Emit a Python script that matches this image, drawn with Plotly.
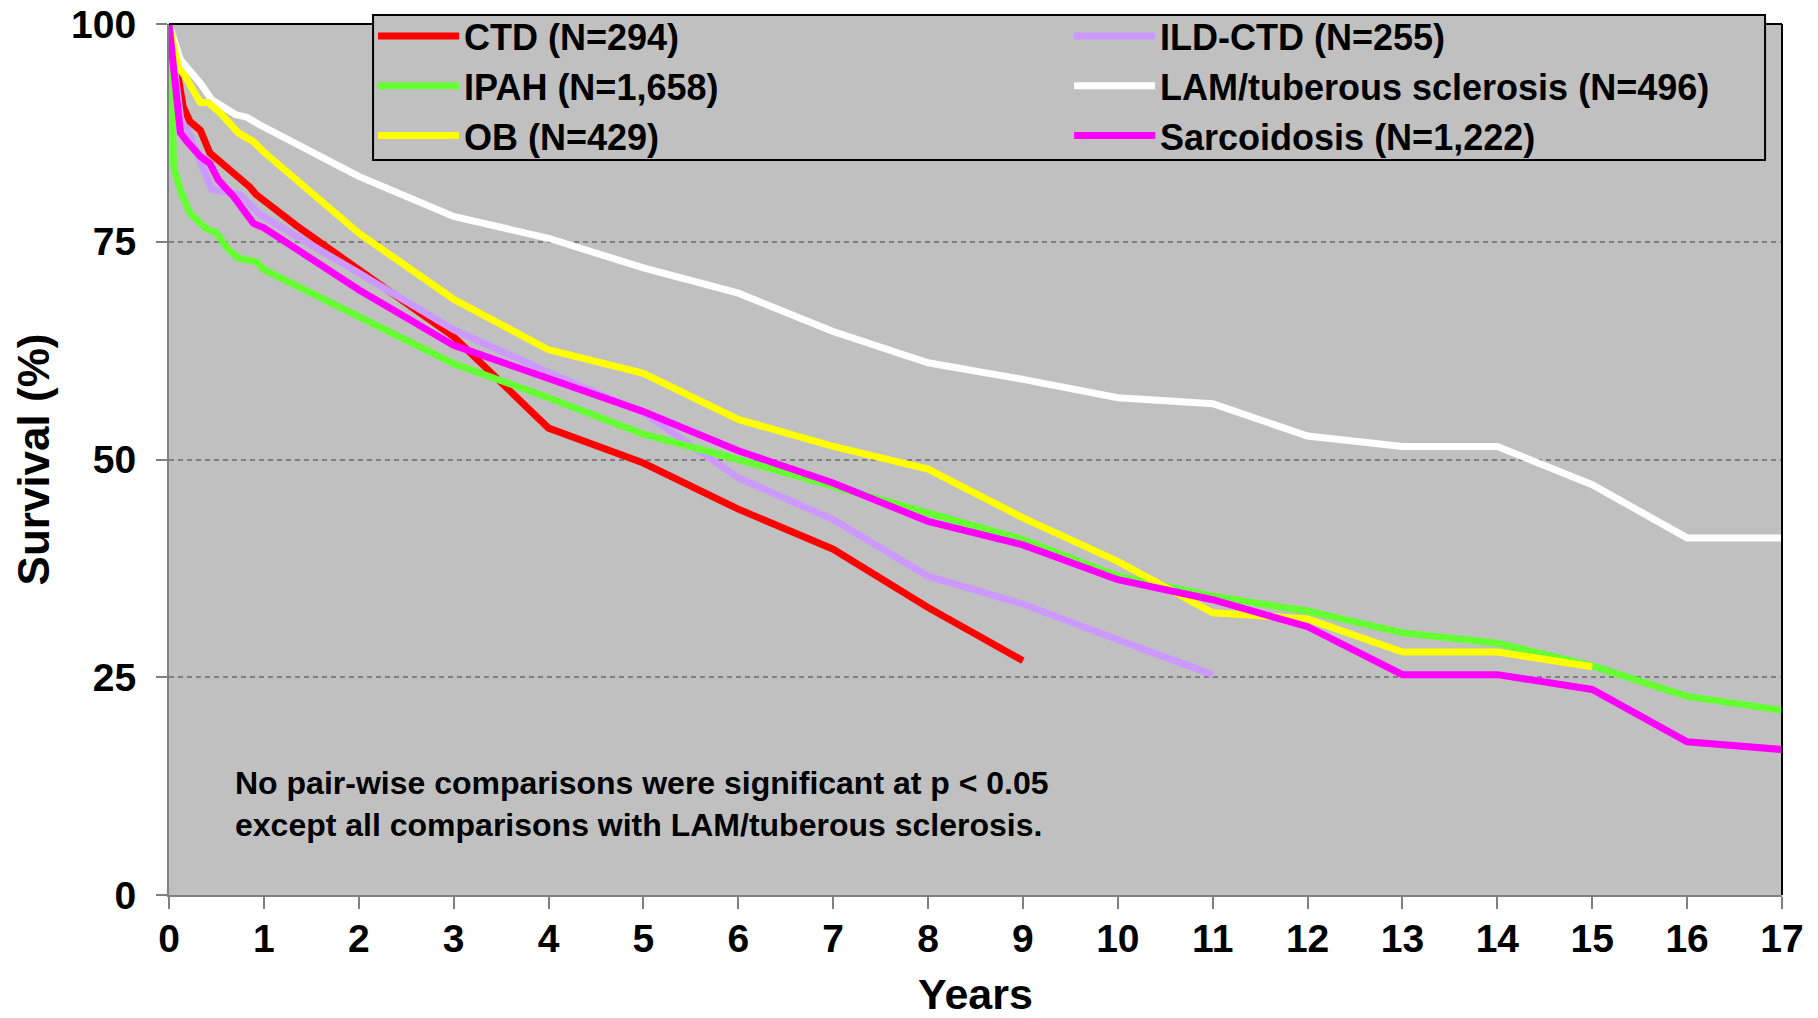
import plotly.graph_objects as go

# ---- data ----
ctd_x = [0, 0.1, 0.15, 0.22, 0.33, 0.43, 0.64, 0.75, 0.85, 0.92, 1.35, 2, 3, 4, 5, 6, 7, 8, 9]
ctd_y = [100, 94.0, 90.5, 88.8, 87.8, 85.2, 83.3, 82.1, 81.3, 80.4, 76.8, 71.8, 64.1, 53.6, 49.6, 44.3, 39.7, 33.0, 26.9]

ild_x = [0, 0.13, 0.19, 0.45, 0.75, 0.96, 2, 3, 4, 5, 6, 7, 8, 9, 10, 11]
ild_y = [100, 88.6, 88.0, 81.0, 80.4, 78.1, 71.4, 64.9, 60.0, 55.4, 47.9, 43.1, 36.6, 33.4, 29.3, 25.3]

ipah_x = [0, 0.05, 0.13, 0.22, 0.38, 0.5, 0.61, 0.73, 0.92, 1, 2, 3, 4, 5, 6, 7, 8, 9, 10, 11, 12, 13, 14, 15, 16, 17]
ipah_y = [100, 83.6, 80.6, 78.3, 76.6, 76.0, 74.3, 73.1, 72.7, 71.8, 66.4, 61.0, 57.1, 52.9, 50.0, 46.9, 43.7, 40.8, 36.6, 34.3, 32.6, 30.1, 28.9, 26.3, 22.8, 21.2]

lam_x = [0, 0.12, 0.33, 0.45, 0.7, 0.82, 0.96, 2, 3, 4, 5, 6, 7, 8, 9, 10, 11, 12, 13, 14, 15, 16, 17]
lam_y = [100, 95.9, 93.2, 91.3, 89.6, 89.3, 88.4, 82.5, 77.9, 75.4, 72.0, 69.1, 64.7, 61.1, 59.2, 57.1, 56.4, 52.7, 51.5, 51.5, 47.1, 41.0, 41.0]

ob_x = [0, 0.1, 0.17, 0.33, 0.41, 0.54, 0.73, 0.89, 1, 2, 3, 4, 5, 6, 7, 8, 9, 10, 11, 12, 13, 14, 15]
ob_y = [100, 95, 94, 91, 91, 89.8, 87.5, 86.5, 85.3, 76, 68.4, 62.6, 59.9, 54.6, 51.5, 48.9, 43.3, 38.3, 32.4, 31.7, 27.9, 27.9, 26.2]

sarc_x = [0, 0.12, 0.19, 0.33, 0.43, 0.52, 0.68, 0.89, 1, 2, 3, 4, 5, 6, 7, 8, 9, 10, 11, 12, 13, 14, 15, 16, 17]
sarc_y = [100, 87.5, 86.5, 84.8, 84.0, 82.1, 80.2, 77.1, 76.6, 69.5, 63.1, 59.3, 55.5, 51.0, 47.3, 42.9, 40.2, 36.2, 33.9, 30.8, 25.3, 25.3, 23.6, 17.6, 16.7]

series_names = ["CTD (N=294)", "ILD-CTD (N=255)", "IPAH (N=1,658)",
                "LAM/tuberous sclerosis (N=496)", "OB (N=429)", "Sarcoidosis (N=1,222)"]
series_colors = ["#FF0000", "#CC99FF", "#66FF33", "#FFFFFF", "#FFFF00", "#FF00FF"]
series_x = [ctd_x, ild_x, ipah_x, lam_x, ob_x, sarc_x]
series_y = [ctd_y, ild_y, ipah_y, lam_y, ob_y, sarc_y]

x_ticks = list(range(0, 18))
y_ticks = [0, 25, 50, 75, 100]

FONT = "Liberation Sans, Arial, sans-serif"

fig = go.Figure()
for name, col, xs, ys in zip(series_names, series_colors, series_x, series_y):
    fig.add_trace(go.Scatter(x=xs, y=ys, mode="lines", name=name,
                             line=dict(color=col, width=7)))

fig.update_layout(
    width=1818, height=1018,
    margin=dict(l=169, r=36, t=24, b=123, autoexpand=False),
    paper_bgcolor="white",
    plot_bgcolor="#C0C0C0",
    font=dict(family=FONT, color="black", size=36, weight="bold"),
    legend=dict(
        orientation="h",
        x=0.1265, xanchor="left",
        y=1.0206, yanchor="top",
        bgcolor="rgba(0,0,0,0)",
        borderwidth=0,
        font=dict(family=FONT, size=36, color="black", weight="bold"),
        entrywidth=600, entrywidthmode="pixels",
        itemwidth=81,
        tracegroupgap=0,
    ),
    xaxis=dict(
        range=[0, 17], tickvals=x_ticks, ticktext=[str(t) for t in x_ticks],
        showgrid=False, zeroline=False, automargin=False,
        showline=True, linecolor="#808080", linewidth=2,
        ticks="outside", ticklen=12, tickcolor="#808080", tickwidth=1.5,
        tickfont=dict(family=FONT, size=39, color="black", weight="bold"),
        ticklabelstandoff=-4,
        title=dict(text="Years", standoff=23,
                   font=dict(family=FONT, size=43, color="black", weight="bold")),
    ),
    yaxis=dict(
        range=[0, 100], tickvals=y_ticks, ticktext=[str(t) for t in y_ticks],
        showgrid=True, gridcolor="#808080", gridwidth=1.5, griddash="5px,4px",
        zeroline=False, automargin=False,
        showline=True, linecolor="#808080", linewidth=2,
        ticks="outside", ticklen=11, tickcolor="#808080", tickwidth=1.5,
        tickfont=dict(family=FONT, size=39, color="black", weight="bold"),
        ticklabelstandoff=12,
        title=dict(text="Survival (%)", standoff=8,
                   font=dict(family=FONT, size=44, color="black", weight="bold")),
    ),
    shapes=[
        dict(type="line", xref="paper", yref="paper", x0=0, x1=1, y0=1, y1=1,
             line=dict(color="black", width=2), layer="above"),
        dict(type="line", xref="paper", yref="paper", x0=1, x1=1, y0=0, y1=1,
             line=dict(color="black", width=2), layer="above"),
        # legend frame
        dict(type="rect", xref="paper", yref="paper",
             x0=0.1265, x1=0.9895, y0=0.8439, y1=1.0103,
             fillcolor="#C0C0C0", line=dict(color="black", width=2), layer="above"),
    ],
    annotations=[
        dict(text="No pair-wise comparisons were significant at p &lt; 0.05<br>"
                  "except all comparisons with LAM/tuberous sclerosis.",
             xref="paper", yref="paper", x=0.0397, y=0.105,
             xanchor="left", yanchor="middle", align="left", showarrow=False,
             font=dict(family=FONT, size=32, color="black", weight="bold")),
    ],
)

fig.write_html("out.html")
